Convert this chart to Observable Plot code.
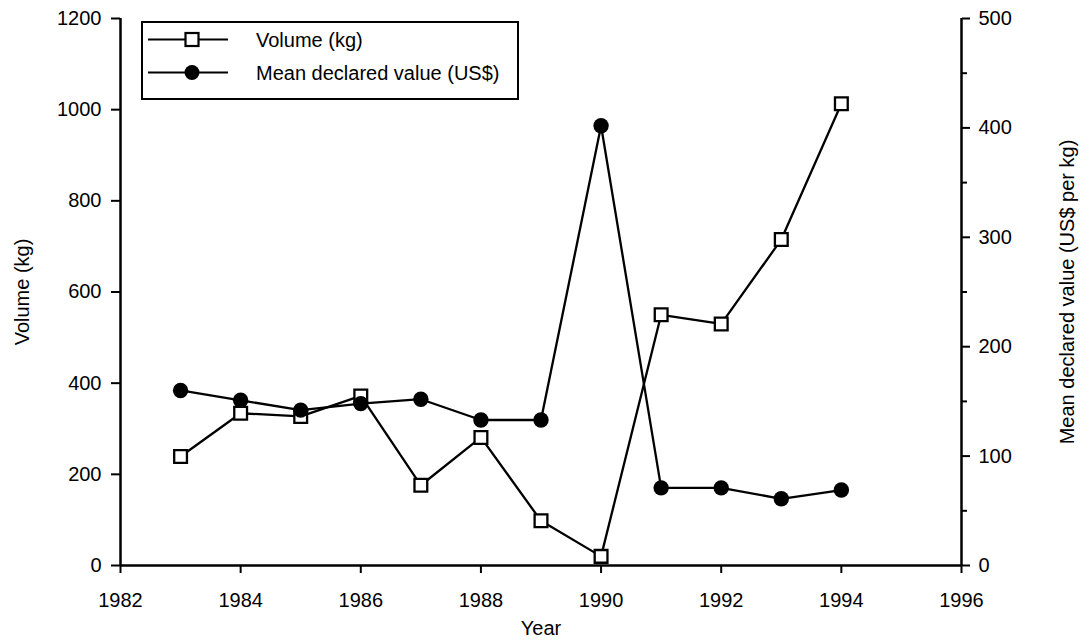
<!DOCTYPE html>
<html><head><meta charset="utf-8">
<script src="https://cdn.jsdelivr.net/npm/d3@7"></script>
<script src="https://cdn.jsdelivr.net/npm/@observablehq/plot@0.6"></script>
<style>
html,body{margin:0;padding:0;background:#fff;}
#chart{position:relative;width:1084px;height:644px;}
#legend{position:absolute;left:0;top:0;pointer-events:none;}
</style></head><body><div id="chart"></div>
<script>
// Data
const years = [1983,1984,1985,1986,1987,1988,1989,1990,1991,1992,1993,1994];
const volumeKg = [239,334,327,372,176,281,98,20,550,530,715,1013];
const meanValueUSD = [160,151,142,148,152,133,133,402,71,71,61,69];
const xTicks = [1982,1984,1986,1988,1990,1992,1994,1996];
const yLeftTicks = [0,200,400,600,800,1000,1200];
const yRightTicks = [0,100,200,300,400,500];
const yRightMinor = [50,150,250,350,450];
const seriesNames = ["Volume (kg)", "Mean declared value (US$)"];
const xLabel = ["Year"];
const yLeftLabel = ["Volume (kg)"];
const yRightLabel = ["Mean declared value (US$ per kg)"];

const leftMax = 1200, rightMax = 500;
const k = leftMax / rightMax;
const data = years.map((y, i) => ({year: y, volume: volumeKg[i], value: meanValueUSD[i]}));
const font = "'Liberation Sans', Arial, Helvetica, sans-serif";

const plot = Plot.plot({
  width: 1084, height: 644,
  marginLeft: 120, marginRight: 123, marginTop: 18, marginBottom: 79,
  style: {fontFamily: font, fontSize: "20px", color: "#000", background: "#fff"},
  x: {domain: [1982, 1996]},
  y: {domain: [0, leftMax]},
  marks: [
    Plot.axisX({ticks: xTicks, tickFormat: d => String(d), tickSize: 8, tickPadding: 19, label: null, strokeWidth: 2, fontSize: 20}),
    Plot.axisY({ticks: yLeftTicks, tickFormat: d => String(d), tickSize: 9, tickPadding: 10, label: null, anchor: "left", strokeWidth: 2, fontSize: 20}),
    Plot.axisY({ticks: yRightTicks.map(v => v * k), tickFormat: d => String(Math.round(d / k)), anchor: "right", tickSize: 8, tickPadding: 9, label: null, strokeWidth: 2, fontSize: 20}),
    Plot.axisY({ticks: yRightMinor.map(v => v * k), tickFormat: () => "", anchor: "right", tickSize: 5, label: null, strokeWidth: 2}),
    Plot.ruleY([0], {stroke: "#000", strokeWidth: 2.5}),
    Plot.ruleX([1982], {stroke: "#000", strokeWidth: 2.5}),
    Plot.ruleX([1996], {stroke: "#000", strokeWidth: 2.5}),
    Plot.line(data, {x: "year", y: "volume", stroke: "#000", strokeWidth: 2.3}),
    Plot.dot(data, {x: "year", y: "volume", symbol: "square", r: 7.2, fill: "#fff", stroke: "#000", strokeWidth: 2.3}),
    Plot.line(data, {x: "year", y: d => d.value * k, stroke: "#000", strokeWidth: 2.3}),
    Plot.dot(data, {x: "year", y: d => d.value * k, r: 7.7, fill: "#000", stroke: "none"}),
    Plot.text(xLabel, {text: d => d, frameAnchor: "bottom", dy: 69, fontSize: 20, fill: "#000"}),
    Plot.text(yLeftLabel, {text: d => d, frameAnchor: "left", textAnchor: "middle", rotate: -90, dx: -98, fontSize: 20, fill: "#000"}),
    Plot.text(yRightLabel, {text: d => d, frameAnchor: "right", textAnchor: "middle", rotate: -90, dx: 106, fontSize: 20, fill: "#000"})
  ]
});
const chart = document.getElementById("chart");
chart.appendChild(plot);

// Legend overlay
const lg = d3.select(chart).append("svg").attr("id", "legend")
  .attr("width", 1084).attr("height", 644);
lg.append("rect").attr("x", 142).attr("y", 22).attr("width", 376).attr("height", 77)
  .attr("fill", "#fff").attr("stroke", "#000").attr("stroke-width", 2);
seriesNames.forEach((name, i) => {
  const cy = 39.5 + i * 33;
  const g = lg.append("g");
  g.append("line").attr("x1", 148).attr("x2", 228).attr("y1", cy).attr("y2", cy)
    .attr("stroke", "#000").attr("stroke-width", 2);
  if (i === 0) {
    g.append("rect").attr("x", 192 - 6.5).attr("y", cy - 6.5).attr("width", 13).attr("height", 13)
      .attr("fill", "#fff").attr("stroke", "#000").attr("stroke-width", 2.2);
  } else {
    g.append("circle").attr("cx", 192).attr("cy", cy).attr("r", 7.5).attr("fill", "#000");
  }
  g.append("text").attr("x", 256).attr("y", cy).attr("dy", "0.35em")
    .attr("font-family", font).attr("font-size", 20).attr("fill", "#000").text(name);
});
</script></body></html>
